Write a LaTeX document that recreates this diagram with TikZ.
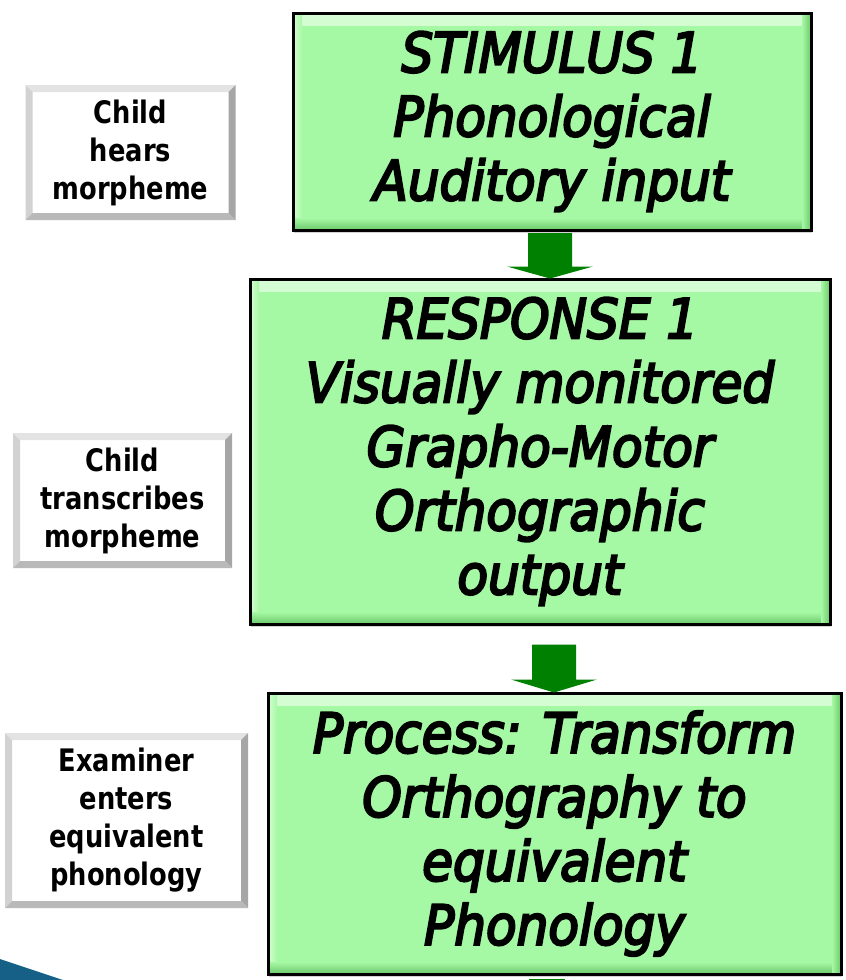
\documentclass[tikz,border=0pt]{standalone}
\usepackage{fontspec}
\usetikzlibrary{calc,shadows}
\newfontfamily\flowfont[FakeStretch=0.91]{DejaVu Sans}
\newfontfamily\notefont[FakeStretch=0.83]{DejaVu Sans}
% slightly heavier glyph strokes for the flow-box captions
\newcommand\heavyon{\special{pdf:literal direct 2 Tr 2.2 w}}
\newcommand\heavyoff{\special{pdf:literal direct 0 Tr}}

\definecolor{boxgreen}{RGB}{166,249,164}
\definecolor{boxgreenlight}{RGB}{214,253,212}
\definecolor{boxgreendark}{RGB}{108,200,106}
\definecolor{arrowgreen}{RGB}{0,128,0}
\definecolor{cornerblue}{RGB}{22,96,136}

\tikzset{
  flowbox/.style={draw=black, line width=3pt, fill=boxgreen, inner sep=0pt,
    drop shadow={opacity=0.35, shadow xshift=1pt, shadow yshift=-2.5pt},
    align=center, font=\flowfont\itshape\fontsize{55}{64}\selectfont,
    path picture={
      \shade[top color=boxgreenlight, bottom color=boxgreen]
        (path picture bounding box.north west) rectangle
        ([yshift=-12pt]path picture bounding box.north east);
      \shade[left color=boxgreenlight, right color=boxgreen]
        (path picture bounding box.north west) rectangle
        ([xshift=9pt]path picture bounding box.south west);
      \shade[top color=boxgreen, bottom color=boxgreendark]
        ([yshift=12pt]path picture bounding box.south west) rectangle
        (path picture bounding box.south east);
      \shade[left color=boxgreen, right color=boxgreendark]
        ([xshift=-9pt]path picture bounding box.north east) rectangle
        (path picture bounding box.south east);
    }},
  notebox/.style={fill=white, inner sep=0pt, align=center,
    font=\notefont\bfseries\fontsize{31}{38}\selectfont,
    path picture={
      \fill[gray!22] (path picture bounding box.north west) --
        (path picture bounding box.north east) --
        ([xshift=-7pt,yshift=-7pt]path picture bounding box.north east) --
        ([xshift=7pt,yshift=-7pt]path picture bounding box.north west) -- cycle;
      \fill[gray!35] (path picture bounding box.north west) --
        ([xshift=7pt,yshift=-7pt]path picture bounding box.north west) --
        ([xshift=7pt,yshift=7pt]path picture bounding box.south west) --
        (path picture bounding box.south west) -- cycle;
      \fill[gray!70] (path picture bounding box.north east) --
        (path picture bounding box.south east) --
        ([xshift=-7pt,yshift=7pt]path picture bounding box.south east) --
        ([xshift=-7pt,yshift=-7pt]path picture bounding box.north east) -- cycle;
      \fill[gray!55] (path picture bounding box.south west) --
        ([xshift=7pt,yshift=7pt]path picture bounding box.south west) --
        ([xshift=-7pt,yshift=7pt]path picture bounding box.south east) --
        (path picture bounding box.south east) -- cycle;
    }},
  blockarrow/.style={fill=arrowgreen}
}

% thick downward block arrow between two named points
\newcommand\downblock[3]{%
  \fill[blockarrow] let \p1=(#1), \p2=(#2) in
    (\x1-22pt,\y1) -- (\x1+22pt,\y1) -- (\x1+22pt,\y2+#3) --
    (\x1+43pt,\y2+#3) -- (\x2,\y2) -- (\x1-43pt,\y2+#3) --
    (\x1-22pt,\y2+#3) -- cycle;}

\begin{document}
\begin{tikzpicture}[x=1pt,y=-1pt]
  \useasboundingbox (0,0) rectangle (846,980);
  \clip (0,0) rectangle (846,980);

  % corner decoration
  \fill[cornerblue] (0,959) -- (63,980) -- (0,980) -- cycle;

  % main flow
  \node[flowbox, minimum width=518pt, minimum height=217pt] (stim) at (552,121.5)
    {\heavyon STIMULUS 1\\Phonological\\Auditory input\heavyoff};
  \node[flowbox, minimum width=580pt, minimum height=345pt] (resp) at (540,451.5)
    {\heavyon RESPONSE 1\\Visually monitored\\Grapho-Motor\\Orthographic\\output\heavyoff};
  \node[flowbox, minimum width=573pt, minimum height=281pt] (proc) at (554.5,833.5)
    {\heavyon Process: Transform\\Orthography to\\equivalent\\Phonology\heavyoff};

  % side notes
  \node[notebox, minimum width=210pt, minimum height=135pt] (hears) at (130.5,152.5)
    {Child\\hears\\morpheme};
  \node[notebox, minimum width=219pt, minimum height=135pt] (transcr) at (122.5,500.5)
    {Child\\transcribes\\morpheme};
  \node[notebox, minimum width=243pt, minimum height=175pt] (examiner) at (126.5,820.5)
    {Examiner\\enters\\equivalent\\phonology};

  % arrow end points
  \coordinate (a1from) at ([xshift=-2pt,yshift=-1.5pt]stim.south);
  \coordinate (a1to) at ([xshift=10pt,yshift=-1pt]resp.north);
  \coordinate (a2from) at ([xshift=14pt,yshift=-19pt]resp.south);
  \coordinate (a2to) at ([xshift=-0.5pt,yshift=-1pt]proc.north);
  \coordinate (a3from) at ([xshift=-7.5pt,yshift=-3pt]proc.south);

  \downblock{a1from}{a1to}{12pt}
  \downblock{a2from}{a2to}{13pt}
  \fill[blockarrow] ([xshift=-18pt]a3from) rectangle ([xshift=18pt,yshift=-20pt]a3from);
\end{tikzpicture}
\end{document}
